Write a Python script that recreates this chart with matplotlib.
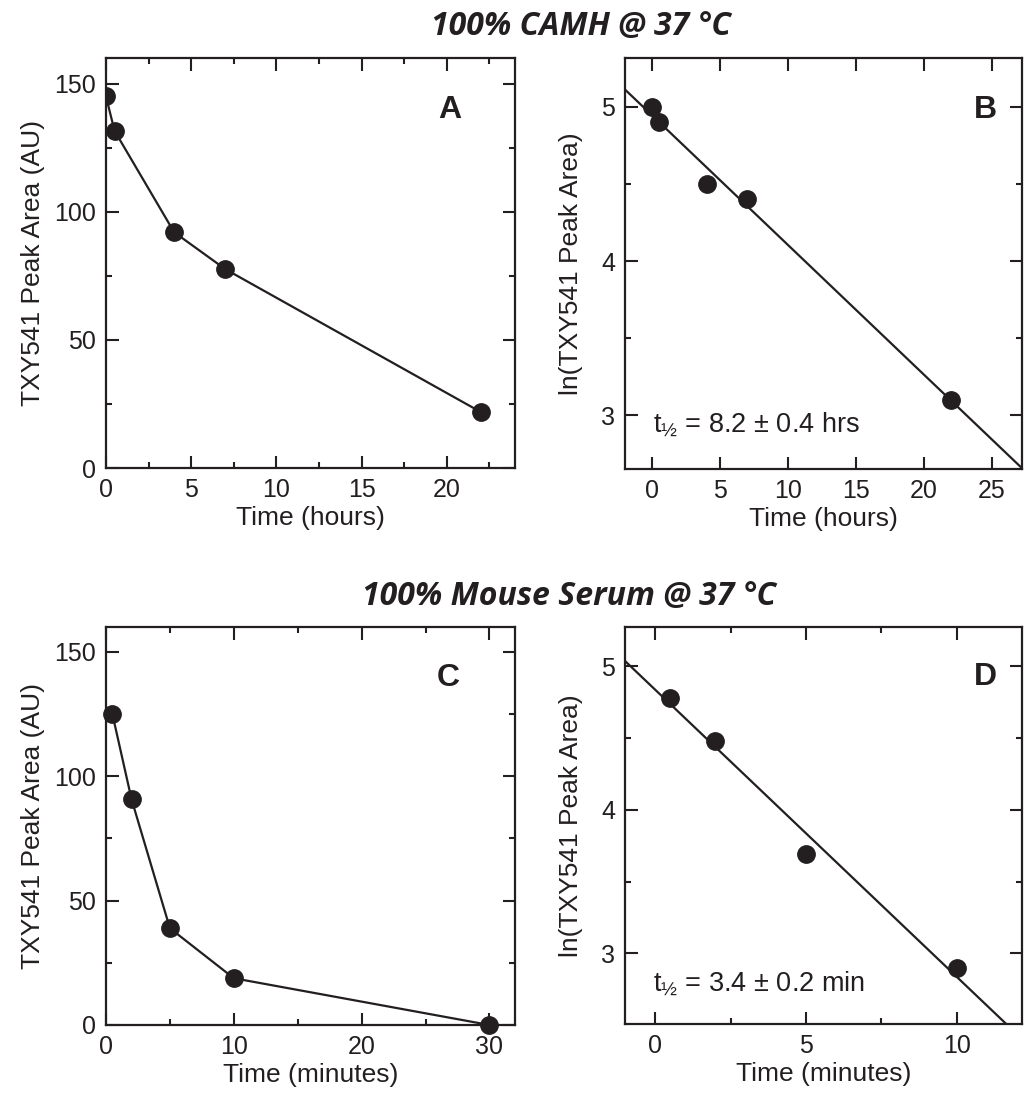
import numpy as np
import matplotlib
matplotlib.use('Agg')
import matplotlib.pyplot as plt
from matplotlib.ticker import MultipleLocator

# panel A / B : 100% CAMH
camh_t = [0, 0.5, 4, 7, 22]
camh_area = [145, 131.6, 92, 77.6, 21.8]
camh_ln = [5.0, 4.9, 4.5, 4.4, 3.1]

# panel C / D : 100% mouse serum
serum_t = [0.5, 2, 5, 10, 30]
serum_area = [125, 90.7, 38.9, 18.8, 0]
serum_ln_t = [0.5, 2, 5, 10]
serum_ln = [4.78, 4.48, 3.69, 2.90]

titles = ['100% CAMH @ 37 °C', '100% Mouse Serum @ 37 °C']
halflife = [r'$\mathregular{t_{½}}$ = 8.2 ± 0.4 hrs', r'$\mathregular{t_{½}}$ = 3.4 ± 0.2 min']

ink = '#231f20'
plt.rcParams['font.family'] = ['Liberation Sans', 'DejaVu Sans']
plt.rcParams['mathtext.fontset'] = 'custom'
plt.rcParams['mathtext.rm'] = 'Liberation Sans'
plt.rcParams['font.size'] = 19
plt.rcParams['text.color'] = ink
plt.rcParams['axes.labelcolor'] = ink
plt.rcParams['xtick.color'] = ink
plt.rcParams['ytick.color'] = ink

fig = plt.figure(figsize=(10.25, 11.08), dpi=100)
W, H = 1025, 1108


def box(l, r, t, b):
    return [l / W, 1 - b / H, (r - l) / W, (b - t) / H]


axA = fig.add_axes(box(106, 515, 58, 468))
axB = fig.add_axes(box(625, 1022, 58, 469))
axC = fig.add_axes(box(106, 515, 627, 1025))
axD = fig.add_axes(box(625, 1022, 627, 1024))


def style(ax, xmaj, xmin, ymaj, ymin):
    for s in ax.spines.values():
        s.set_linewidth(1.6)
        s.set_color(ink)
    ax.xaxis.set_major_locator(MultipleLocator(xmaj))
    ax.xaxis.set_minor_locator(MultipleLocator(xmin))
    ax.yaxis.set_major_locator(MultipleLocator(ymaj))
    ax.yaxis.set_minor_locator(MultipleLocator(ymin))
    ax.tick_params(which='both', direction='in', top=True, right=True, width=1.5)
    ax.tick_params(which='major', length=9, pad=7, labelsize=18)
    ax.tick_params(which='minor', length=4.5)


mk = dict(marker='o', markersize=12.5, color=ink, linewidth=1.6)
letter = dict(ha='center', va='center', fontsize=23, fontweight='bold')

# A
axA.plot(camh_t, camh_area, **mk)
axA.set_xlim(0, 24)
axA.set_ylim(0, 160)
style(axA, 5, 2.5, 50, 25)
axA.set_xlabel('Time (hours)', labelpad=3)
axA.set_ylabel('TXY541 Peak Area (AU)', labelpad=7)
axA.text(0.841, 0.873, 'A', transform=axA.transAxes, **letter)

# B
slope, icpt = np.polyfit(camh_t, camh_ln, 1)
xx = np.array([-2, 30])
axB.plot(xx, icpt + slope * xx, color=ink, linewidth=1.6)
axB.plot(camh_t, camh_ln, linestyle='none', **mk)
axB.set_xlim(-2, 27.2)
axB.set_ylim(2.653, 5.315)
style(axB, 5, 5, 1, 0.5)
axB.set_xlabel('Time (hours)', labelpad=3)
axB.set_ylabel('ln(TXY541 Peak Area)', labelpad=13)
axB.text(0.907, 0.873, 'B', transform=axB.transAxes, **letter)
axB.text(0.07, 0.107, halflife[0], transform=axB.transAxes, ha='left', va='center', fontsize=19.5)

# C
axC.plot(serum_t, serum_area, clip_on=False, **mk)
axC.set_xlim(0, 32)
axC.set_ylim(0, 160)
style(axC, 10, 5, 50, 25)
axC.set_xlabel('Time (minutes)', labelpad=3)
axC.set_ylabel('TXY541 Peak Area (AU)', labelpad=7)
axC.text(0.837, 0.872, 'C', transform=axC.transAxes, **letter)

# D
slope, icpt = np.polyfit(serum_ln_t, serum_ln, 1)
xx = np.array([-1, 14])
axD.plot(xx, icpt + slope * xx, color=ink, linewidth=1.6)
axD.plot(serum_ln_t, serum_ln, linestyle='none', **mk)
axD.set_xlim(-1, 12.17)
axD.set_ylim(2.507, 5.275)
style(axD, 5, 2.5, 1, 0.5)
axD.set_xlabel('Time (minutes)', labelpad=3)
axD.set_ylabel('ln(TXY541 Peak Area)', labelpad=13)
axD.text(0.907, 0.875, 'D', transform=axD.transAxes, **letter)
axD.text(0.07, 0.103, halflife[1], transform=axD.transAxes, ha='left', va='center', fontsize=19.5)

fig.text(581 / W, 1 - 27 / H, titles[0], ha='center', va='center', fontsize=23,
         fontweight='bold', style='italic', family=['Open Sans', 'DejaVu Sans'])
fig.text(569 / W, 1 - 596 / H, titles[1], ha='center', va='center', fontsize=23,
         fontweight='bold', style='italic', family=['Open Sans', 'DejaVu Sans'])

fig.savefig('out.png', dpi=100)
